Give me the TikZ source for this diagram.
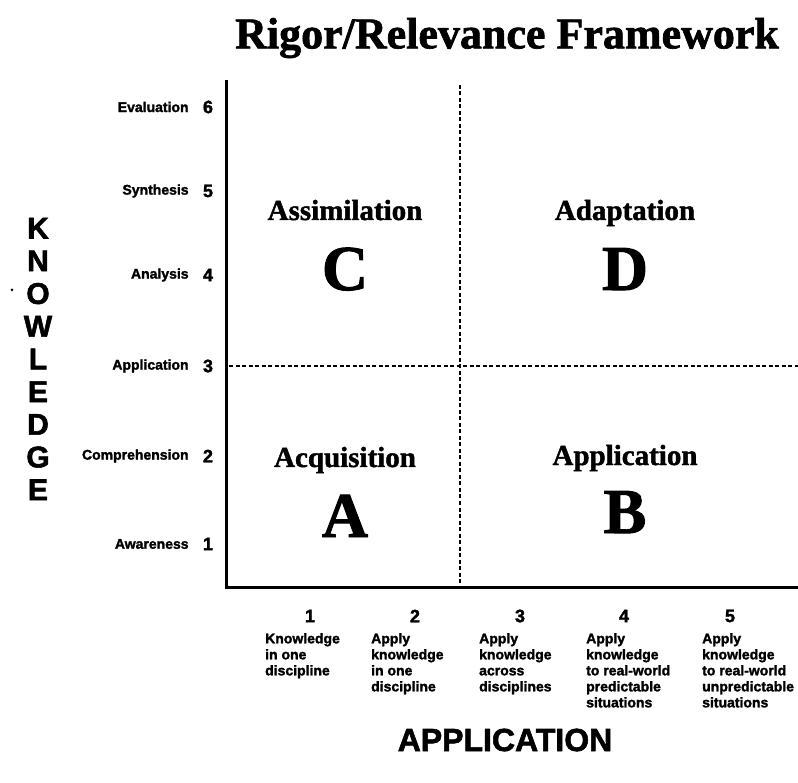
\documentclass[tikz,border=0pt]{standalone}
\usepackage{fontspec}
\setmainfont{Liberation Serif}[BoldFeatures={FakeBold=1.5}]
\setsansfont{Liberation Sans}[BoldFeatures={FakeBold=1.8}]
\usetikzlibrary{positioning}

\tikzset{
  axis/.style={line width=3pt},
  split/.style={line width=2pt, dash pattern=on 4pt off 2.5pt},
  level/.style={font=\sffamily\bfseries\fontsize{14}{16}\selectfont, inner sep=0pt},
  levelnum/.style={font=\sffamily\bfseries\fontsize{18}{18}\selectfont, inner sep=0pt},
  quadname/.style={font=\rmfamily\bfseries\fontsize{29}{29}\selectfont, inner sep=0pt, anchor=base},
  quadletter/.style={font=\rmfamily\bfseries\fontsize{64}{64}\selectfont, inner sep=0pt},
  coltext/.style={level, align=left, anchor=north west},
  axisname/.style={font=\sffamily\bfseries\fontsize{32}{32}\selectfont, inner sep=0pt},
}

\begin{document}
\begin{tikzpicture}[x=1pt, y=-1pt]
\useasboundingbox (0,0) rectangle (798,783);

\node[font=\rmfamily\bfseries\fontsize{44}{44}\selectfont, inner sep=0pt] (title) at (507,38) {Rigor/Relevance Framework};

% axes
\coordinate (ytop) at (226,80);
\coordinate (origin) at (226,587);
\coordinate (xend) at (798,587);
\draw[axis] (ytop) -- (origin) -- (xend);

\coordinate (vtop) at (460,85);
\coordinate (vbot) at (460,586);
\coordinate (hleft) at (229,366);
\coordinate (hright) at (798,366);
\draw[split] (vtop) -- (vbot);
\draw[split] (hleft) -- (hright);

% knowledge levels
\node[levelnum] (k6) at (208,107) {6};
\node[levelnum] (k5) at (208,191) {5};
\node[levelnum] (k4) at (208,275) {4};
\node[levelnum] (k3) at (208,366) {3};
\node[levelnum] (k2) at (208,456) {2};
\node[levelnum] (k1) at (208,544) {1};
\node[level, left=14pt of k6] (evaluation) {Evaluation};
\node[level, left=14pt of k5] (synthesis) {Synthesis};
\node[level, left=14pt of k4] (analysis) {Analysis};
\node[level, left=14pt of k3] (applic) {Application};
\node[level, left=14pt of k2] (comprehension) {Comprehension};
\node[level, left=14pt of k1] (awareness) {Awareness};

\node[font=\sffamily\bfseries\fontsize{30}{32.7}\selectfont, align=center, inner sep=0pt] (knowledge) at (38,359) {K\\N\\O\\W\\L\\E\\D\\G\\E};
\fill (12,290) circle (1.5pt);

% quadrants
\node[quadname] (assim) at (345,220) {Assimilation};
\node[quadletter, below=70pt of assim.base, anchor=base] (c) {C};
\node[quadname] (adapt) at (625,220) {Adaptation};
\node[quadletter, below=70pt of adapt.base, anchor=base] (d) {D};
\node[quadname] (acqui) at (345,467) {Acquisition};
\node[quadletter, below=70pt of acqui.base, anchor=base] (a) {A};
\node[quadname] (appl) at (625,465) {Application};
\node[quadletter, below=68pt of appl.base, anchor=base] (b) {B};

% application levels
\node[levelnum] (r1) at (310,616) {1};
\node[levelnum] (r2) at (415,616) {2};
\node[levelnum] (r3) at (520,616) {3};
\node[levelnum] (r4) at (624,616) {4};
\node[levelnum] (r5) at (730,616) {5};
\node[coltext] (t1) at (265,633) {Knowledge\\in one\\discipline};
\node[coltext] (t2) at (371,633) {Apply\\knowledge\\in one\\discipline};
\node[coltext] (t3) at (479,633) {Apply\\knowledge\\across\\disciplines};
\node[coltext] (t4) at (586,633) {Apply\\knowledge\\to real-world\\predictable\\situations};
\node[coltext] (t5) at (702,633) {Apply\\knowledge\\to real-world\\unpredictable\\situations};

\node[axisname] (application) at (505,740) {APPLICATION};

\end{tikzpicture}
\end{document}
